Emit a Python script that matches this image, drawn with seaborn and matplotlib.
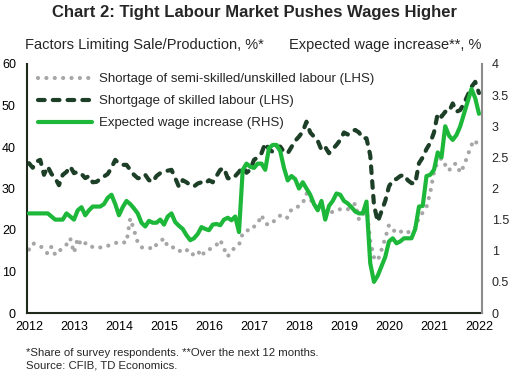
import pandas as pd
import matplotlib.pyplot as plt
import seaborn as sns

# monthly data, Jan 2012 - Jan 2022
start_month = "2012-01"

semi_skilled = [
    15.3, 16.8, 16.5, 16.2, 15.2, 14.3, 16.0, 14.0, 15.0, 15.5, 16.5, 18.0,
    14.5, 18.0, 16.2, 16.8, 16.8, 15.8, 15.8, 15.8, 15.8, 16.2, 16.4, 16.8,
    17.2, 17.0, 17.0, 22.8, 20.0, 17.0, 15.8, 15.8, 15.8, 15.3, 16.5, 17.2,
    18.0, 16.0, 16.0, 15.5, 14.8, 15.5, 15.3, 14.0, 14.2, 15.0, 13.6, 15.0,
    15.2, 16.0, 16.4, 17.6, 15.5, 13.6, 15.0, 15.8, 16.4, 19.2, 19.5, 20.8,
    20.8, 21.5, 23.6, 21.6, 21.2, 22.0, 22.4, 23.5, 22.8, 23.0, 25.0, 25.2,
    25.8, 26.4, 28.8, 27.5, 26.0, 25.2, 24.8, 24.5, 24.5, 24.3, 24.8, 25.0,
    25.2, 25.0, 25.5, 26.4, 22.5, 23.5, 25.6, 17.4, 13.4, 12.6, 15.2, 18.0,
    21.2, 20.2, 19.2, 19.5, 20.0, 19.5, 19.5, 20.5, 23.0, 24.2, 25.5, 29.0,
    34.0, 36.5, 37.3, 35.7, 34.3, 35.8, 36.0, 33.8, 35.5, 38.0, 40.5, 41.7,
    39.5,
]

skilled = [
    36.1, 35.0, 36.5, 36.9, 33.3, 35.3, 33.5, 32.5, 30.8, 33.3, 34.0, 35.3,
    33.7, 34.0, 33.5, 32.5, 33.0, 31.5, 31.6, 32.3, 32.9, 33.5, 35.0, 36.9,
    36.0, 35.7, 35.7, 34.5, 33.3, 32.5, 32.5, 33.3, 32.0, 31.6, 33.0, 33.7,
    34.0, 34.3, 34.5, 32.5, 30.4, 32.0, 31.5, 30.8, 30.5, 31.2, 31.5, 31.2,
    32.0, 31.5, 33.0, 34.5, 34.9, 32.5, 32.3, 33.0, 34.0, 35.3, 33.8, 34.5,
    36.9, 37.5, 38.5, 40.9, 39.5, 38.8, 40.0, 40.1, 38.8, 38.5, 40.0, 41.5,
    42.5, 43.7, 46.1, 43.5, 42.5, 41.5, 39.3, 40.0, 38.5, 39.5, 40.5, 41.7,
    43.5, 43.0, 43.8, 44.1, 43.5, 42.1, 42.1, 38.0, 26.0, 22.0, 24.5, 27.0,
    30.5, 32.0, 32.3, 33.0, 33.3, 32.0, 31.3, 31.2, 36.1, 37.5, 39.5, 41.0,
    43.5, 48.1, 47.3, 48.5, 48.5, 50.5, 48.5, 48.9, 50.5, 52.5, 54.5, 55.7,
    53.0,
]

wage_increase = [
    1.60, 1.60, 1.60, 1.60, 1.60, 1.60, 1.55, 1.50, 1.50, 1.50, 1.60, 1.55,
    1.50, 1.65, 1.70, 1.57, 1.65, 1.71, 1.71, 1.71, 1.75, 1.85, 1.90, 1.75,
    1.57, 1.70, 1.80, 1.75, 1.68, 1.60, 1.45, 1.39, 1.48, 1.45, 1.45, 1.50,
    1.42, 1.55, 1.60, 1.46, 1.40, 1.35, 1.25, 1.17, 1.20, 1.27, 1.38, 1.35,
    1.33, 1.42, 1.43, 1.41, 1.50, 1.53, 1.49, 1.55, 1.30, 2.30, 2.40, 2.35,
    2.33, 2.40, 2.40, 2.30, 2.65, 2.70, 2.70, 2.60, 2.33, 2.13, 2.20, 2.15,
    2.00, 2.10, 2.00, 1.90, 1.75, 1.65, 1.80, 1.50, 1.72, 1.80, 1.92, 1.90,
    1.80, 1.76, 1.70, 1.63, 1.60, 1.60, 1.79, 0.80, 0.50, 0.60, 0.75, 0.90,
    1.15, 1.20, 1.12, 1.15, 1.20, 1.20, 1.20, 1.35, 1.71, 1.72, 2.20, 2.22,
    2.30, 2.58, 2.50, 3.00, 2.85, 2.78, 2.86, 3.00, 3.20, 3.40, 3.60, 3.45,
    3.20,
]

year_ticks = list(range(2012, 2023))
left_ticks = [0, 10, 20, 30, 40, 50, 60]
right_ticks = [0, 0.5, 1, 1.5, 2, 2.5, 3, 3.5, 4]

months = pd.date_range(start_month, periods=len(skilled), freq="MS")
df = pd.DataFrame({
    "t": months.year + (months.month - 1) / 12,
    "semi": semi_skilled,
    "skilled": skilled,
    "wage": wage_increase,
})

sns.set_style("white")
plt.rcParams["font.family"] = ["Liberation Sans", "DejaVu Sans"]

grey = "#a6a6a6"
dark_green = "#1d3f27"
bright_green = "#1db83a"

fig = plt.figure(figsize=(5.1, 3.73), dpi=100)
ax = fig.add_axes([27 / 510, 1 - 313 / 373, 455 / 510, 249 / 373])
ax2 = ax.twinx()

sns.lineplot(data=df, x="t", y="semi", ax=ax, color=grey, lw=3.0,
             linestyle=(0, (0.01, 2.0)), dash_capstyle="round",
             label="Shortage of semi-skilled/unskilled labour (LHS)", legend=False)
sns.lineplot(data=df, x="t", y="skilled", ax=ax, color=dark_green, lw=3.0,
             linestyle=(0, (1.6, 1.95)), dash_capstyle="round",
             label="Shortgage of skilled labour (LHS)", legend=False)
sns.lineplot(data=df, x="t", y="wage", ax=ax2, color=bright_green, lw=3.0,
             label="Expected wage increase (RHS)", legend=False)

ax.set_xlim(2011.956, 2022.067)
ax.set_ylim(0, 60)
ax2.set_ylim(0, 4)
ax.set_xticks(year_ticks)
ax.set_xticklabels([str(y) for y in year_ticks])
ax.set_yticks(left_ticks)
ax2.set_yticks(right_ticks)
ax2.set_yticklabels([f"{v:g}" for v in right_ticks])
ax.set_xlabel("")
ax.set_ylabel("")
ax2.set_ylabel("")

ax.tick_params(axis="both", length=0, labelsize=9, colors="black")
ax.tick_params(axis="y", pad=8)
ax.tick_params(axis="x", pad=6)
ax2.tick_params(axis="y", length=0, labelsize=9, pad=7)

for a in (ax, ax2):
    a.spines["top"].set_visible(False)
    a.grid(False)
ax2.spines["left"].set_visible(False)
ax2.spines["bottom"].set_visible(False)
ax.spines["right"].set_visible(False)
ax.spines["left"].set_color("#1f2a1c")
ax.spines["left"].set_linewidth(1.5)
ax.spines["bottom"].set_color("#1f2a1c")
ax.spines["bottom"].set_linewidth(1.5)
ax2.spines["right"].set_color("#8c8c8c")
ax2.spines["right"].set_linewidth(1.5)

handles = ax.get_lines() + ax2.get_lines()
ax2.legend(handles=handles, labels=[h.get_label() for h in handles],
           loc="upper left", bbox_to_anchor=(11 / 455, 1 - 9 / 249),
           frameon=False, fontsize=9.5, handlelength=4.1, handletextpad=0.5,
           labelspacing=0.74, borderpad=0, borderaxespad=0)

fig.text(0.5, 1 - 12 / 373, "Chart 2: Tight Labour Market Pushes Wages Higher",
         ha="center", va="center", fontsize=12, fontweight="bold")
fig.text(144 / 510, 1 - 45 / 373, "Factors Limiting Sale/Production, %*",
         ha="center", va="center", fontsize=10.5)
fig.text(385 / 510, 1 - 45 / 373, "Expected wage increase**, %",
         ha="center", va="center", fontsize=10.5)
fig.text(26 / 510, 1 - 353 / 373,
         "*Share of survey respondents. **Over the next 12 months.",
         ha="left", va="center", fontsize=8.2)
fig.text(26 / 510, 1 - 366 / 373, "Source: CFIB, TD Economics.",
         ha="left", va="center", fontsize=8.2)

fig.savefig("out.png", dpi=100)
plt.close(fig)
